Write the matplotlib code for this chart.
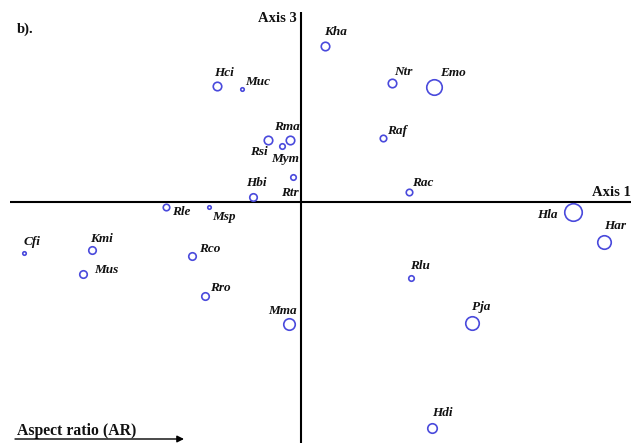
import matplotlib
matplotlib.use("Agg")
import matplotlib.pyplot as plt

# Ordination scores (Axis 1 vs Axis 3) per species
species = ["Cfi", "Kmi", "Mus", "Rle", "Msp", "Rco", "Rro", "Mma", "Hci", "Muc",
           "Rsi", "Rma", "Mym", "Rtr", "Hbi", "Kha", "Ntr", "Emo", "Raf", "Rac",
           "Hla", "Har", "Rlu", "Pja", "Hdi"]
axis1 = [-2.77, -2.09, -2.18, -1.35, -0.92, -1.09, -0.96, -0.12, -0.84, -0.59,
         -0.33, -0.11, -0.19, -0.08, -0.48, 0.24, 0.91, 1.33, 0.82, 1.08,
         2.72, 3.03, 1.10, 1.71, 1.31]
axis3 = [-0.51, -0.48, -0.72, -0.05, -0.05, -0.54, -0.94, -1.22, 1.16, 1.13,
         0.62, 0.62, 0.56, 0.25, 0.05, 1.56, 1.19, 1.15, 0.64, 0.10,
         -0.10, -0.40, -0.76, -1.21, -2.26]
# relative body size, shown as circle diameter
body_size = [5, 9, 9, 8, 5, 9, 9, 13, 10, 5,
             10, 10, 7, 7, 9, 10, 10, 17, 8, 8,
             19, 15, 7, 15, 11]

# label offsets in pixels relative to each circle
label_offsets = {
    "Cfi": (8, 11), "Kmi": (9, 11), "Mus": (23, 4), "Rle": (15, -5),
    "Msp": (15, -10), "Rco": (18, 7), "Rro": (15, 8), "Mma": (-7, 13),
    "Hci": (7, 13), "Muc": (16, 7), "Rsi": (-9, -12), "Rma": (-3, 13),
    "Mym": (3, -13), "Rtr": (-3, -16), "Hbi": (3, 14), "Kha": (11, 14),
    "Ntr": (11, 11), "Emo": (19, 14), "Raf": (14, 7), "Rac": (14, 9),
    "Hla": (-26, -3), "Har": (11, 16), "Rlu": (9, 12), "Pja": (9, 16),
    "Hdi": (10, 15),
}

DPI = 100
fig = plt.figure(figsize=(6.31, 4.46), dpi=DPI)
ax = fig.add_axes([0, 0, 1, 1])
ax.set_xlim(-3.01, 3.30)
ax.set_ylim(-2.44, 2.02)
ax.axis("off")

# ordination axes
ax.plot([-2.91, 3.30], [0, 0], color="black", lw=1.5, solid_capstyle="butt")
ax.plot([0, 0], [-2.41, 1.90], color="black", lw=1.5, solid_capstyle="butt")

circle_color = "#4a4adc"
px_to_pt = 72.0 / DPI
for name, x, y, s in zip(species, axis1, axis3, body_size):
    ax.plot(x, y, marker="o", linestyle="none", markerfacecolor="none",
            markeredgecolor=circle_color, markeredgewidth=1.2,
            markersize=(s - 1.5) * px_to_pt)
    dx, dy = label_offsets[name]
    ax.annotate(name, (x, y), xytext=(dx * px_to_pt, dy * px_to_pt),
                textcoords="offset points", ha="center", va="center",
                fontfamily="Liberation Serif", fontweight="bold",
                fontstyle="italic", fontsize=9.5, color="#111111")

serif_bold = dict(fontfamily="Liberation Serif", fontweight="bold", color="#111111")
ax.text(-0.04, 1.83, "Axis 3", ha="right", va="center", fontsize=10.5, **serif_bold)
ax.text(3.30, 0.10, "Axis 1", ha="right", va="center", fontsize=10.5, **serif_bold)
ax.text(-2.84, 1.73, "b).", ha="left", va="center", fontsize=10.5, **serif_bold)
ax.text(-2.84, -2.29, "Aspect ratio (AR)", ha="left", va="center", fontsize=11.3, **serif_bold)
ax.annotate("", xy=(-1.17, -2.37), xytext=(-2.86, -2.37),
            arrowprops=dict(arrowstyle="-|>", color="black", lw=1.0,
                            mutation_scale=10, shrinkA=0, shrinkB=0))

fig.savefig("out.png", dpi=DPI)
